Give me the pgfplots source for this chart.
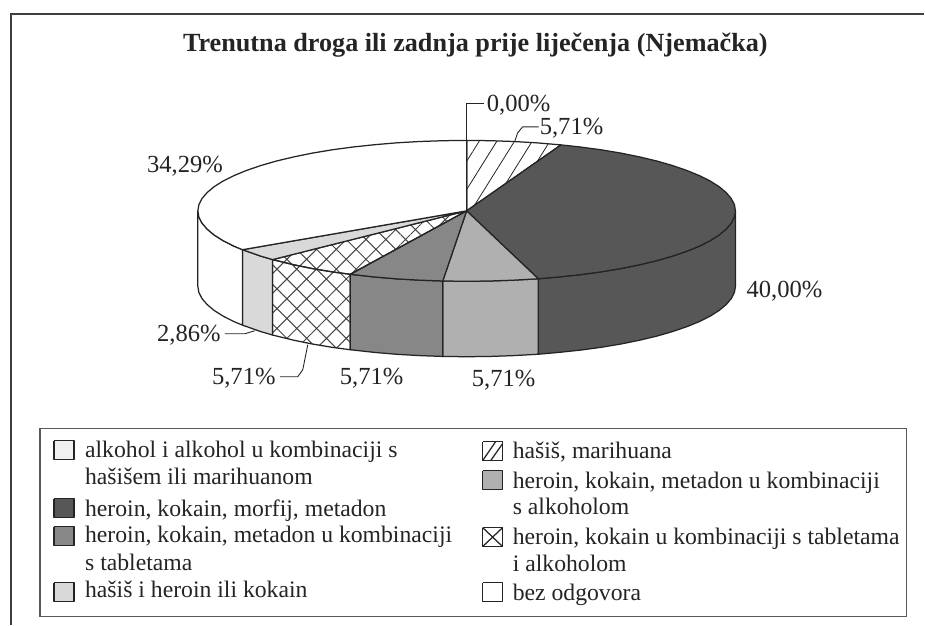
\documentclass[border=0pt]{standalone}
\usepackage{fontspec}
\setmainfont{Liberation Serif}
\usepackage{pgfplots}
\usetikzlibrary{patterns.meta}
\pgfplotsset{compat=1.18}

\definecolor{inkc}{gray}{0.14}
\definecolor{darkc}{gray}{0.34}
\definecolor{midc}{gray}{0.53}
\definecolor{lightmidc}{gray}{0.69}
\definecolor{lightc}{gray}{0.85}

\tikzset{
  edge/.style={draw=inkc, line width=1.25pt, line join=round},
  hatchA/.style={pattern={Lines[angle=58,distance=15pt,line width=0.8pt]}, pattern color=inkc},
  hatchB/.style={pattern={Hatch[angle=45,distance=14pt,line width=1pt]}, pattern color=inkc!85},
  lab/.style={anchor=base west, inner sep=0pt, text=inkc, font=\fontsize{24.6}{28}\selectfont},
  leg/.style={anchor=base west, inner sep=0pt, text=inkc, font=\fontsize{23.7}{26}\selectfont},
  lead/.style={draw=inkc, line width=0.9pt},
}

\begin{document}
\begin{tikzpicture}
\begin{axis}[
  at={(0pt,0pt)}, anchor=south west,
  width=925pt, height=625pt, scale only axis,
  xmin=0, xmax=925, ymin=0, ymax=625, y dir=reverse,
  hide axis, clip=false,
]
% keeps the page as large as the whole scan
\path (axis cs:0,0) rectangle (axis cs:925,625);
% side walls
\addplot[edge, fill=darkc] coordinates {
  (736,211) (735,217.1) (731.9,223.2) (726.8,229.2) (719.8,235.1) (710.8,240.8) (700,246.3)
  (687.4,251.4) (673.1,256.3) (657.2,260.9) (639.9,265) (621.3,268.8) (601.5,272.1)
  (580.7,274.9) (559,277.2) (538.7,279)
  (538.7,354.5) (559,352.7) (580.7,350.4) (601.5,347.6) (621.3,344.3) (639.9,340.5)
  (657.2,336.4) (673.1,331.8) (687.4,326.9) (700,321.8) (710.8,316.3) (719.8,310.6)
  (726.8,304.7) (731.9,298.7) (735,292.6) (736,286.5) (736,211)
};
\addplot[edge, fill=lightmidc] coordinates {
  (538.7,279) (513.7,280.4) (490.5,281.2) (467,281.5) (443.1,281.2)
  (443.1,356.7) (467,357) (490.5,356.7) (513.7,355.9) (538.7,354.5) (538.7,279)
};
\addplot[edge, fill=midc] coordinates {
  (443.1,281.2) (420.3,280.4) (397.4,279.1) (375,277.2) (350.5,274.5)
  (350.5,350) (375,352.7) (397.4,354.6) (420.3,355.9) (443.1,356.7) (443.1,281.2)
};
\addplot[edge, hatchB] coordinates {
  (350.5,274.5) (332.5,272.1) (312.7,268.8) (294.1,265) (272.8,259.8)
  (272.8,335.3) (294.1,340.5) (312.7,344.3) (332.5,347.6) (350.5,350) (350.5,274.5)
};
\addplot[edge, fill=lightc] coordinates {
  (272.8,259.8) (260.9,256.3) (242.7,249.9)
  (242.7,325.4) (260.9,331.8) (272.8,335.3) (272.8,259.8)
};
\addplot[edge, fill=white] coordinates {
  (242.7,249.9) (234,246.3) (223.2,240.8) (214.2,235.1) (207.2,229.2) (202.1,223.2) (199,217.1) (198,211)
  (198,286.5) (199,292.6) (202.1,298.7) (207.2,304.7) (214.2,310.6) (223.2,316.3) (234,321.8)
  (242.7,325.4) (242.7,249.9)
};
% top face, clockwise from twelve o'clock
\addplot[edge, hatchA] coordinates {
  (467,211) (467,140.5) (490.5,140.8) (513.7,141.6) (536.6,142.9) (561.4,145) (467,211)
};
\addplot[edge, fill=darkc] coordinates {
  (467,211) (561.4,145) (580.7,147.1) (601.5,149.9) (621.3,153.2) (639.9,157) (657.2,161.1)
  (673.1,165.7) (687.4,170.6) (700,175.8) (710.8,181.2) (719.8,186.9) (726.8,192.8)
  (731.9,198.8) (735,204.9) (736,211) (735,217.1) (731.9,223.2) (726.8,229.2) (719.8,235.1)
  (710.8,240.8) (700,246.3) (687.4,251.4) (673.1,256.3) (657.2,260.9) (639.9,265)
  (621.3,268.8) (601.5,272.1) (580.7,274.9) (559,277.2) (538.7,279) (467,211)
};
\addplot[edge, fill=lightmidc] coordinates {
  (467,211) (538.7,279) (513.7,280.4) (490.5,281.2) (467,281.5) (443.1,281.2) (467,211)
};
\addplot[edge, fill=midc] coordinates {
  (467,211) (443.1,281.2) (420.3,280.4) (397.4,279.1) (375,277.2) (350.5,274.5) (467,211)
};
\addplot[edge, hatchB] coordinates {
  (467,211) (350.5,274.5) (332.5,272.1) (312.7,268.8) (294.1,265) (272.8,259.8) (467,211)
};
\addplot[edge, fill=lightc] coordinates {
  (467,211) (272.8,259.8) (260.9,256.3) (242.7,249.9) (467,211)
};
\addplot[edge, fill=white] coordinates {
  (467,211) (242.7,249.9) (234,246.3) (223.2,240.8) (214.2,235.1) (207.2,229.2) (202.1,223.2)
  (199,217.1) (198,211) (199,204.9) (202.1,198.8) (207.2,192.8) (214.2,186.9) (223.2,181.2)
  (234,175.8) (246.6,170.6) (260.9,165.7) (276.8,161.1) (294.1,157) (312.7,153.2) (332.5,149.9)
  (353.3,147.1) (375,144.8) (397.4,142.9) (420.3,141.6) (443.5,140.8) (467,140.5) (467,211)
};

% leader lines
\addplot[lead] coordinates {(467,211) (467,104) (484,104)};
\addplot[lead] coordinates {(515,142) (518,133) (523,127) (539,127)};
\addplot[lead] coordinates {(225,334) (245,334) (255,331)};
\addplot[lead] coordinates {(280,377) (298,377) (303,370) (308,345)};

% frame and legend box
\draw[draw=black!75, line width=1.4pt] (axis cs:11,625) -- (axis cs:11,14) -- (axis cs:925,14);
\draw[draw=black!65, line width=1.2pt] (axis cs:40,429) rectangle (axis cs:907,617);

\node[anchor=base west, inner sep=0pt, text=inkc, font=\fontsize{26.2}{30}\selectfont\bfseries]
  at (axis cs:183,52) {Trenutna droga ili zadnja prije liječenja (Njemačka)};

\node[lab] at (axis cs:487,112) {0,00\%};
\node[lab] at (axis cs:540,135) {5,71\%};
\node[lab] at (axis cs:147,173) {34,29\%};
\node[lab] at (axis cs:747,298) {40,00\%};
\node[lab] at (axis cs:157,342) {2,86\%};
\node[lab] at (axis cs:212,385) {5,71\%};
\node[lab] at (axis cs:340,385) {5,71\%};
\node[lab] at (axis cs:472,387) {5,71\%};

% legend swatches
\addplot[edge, fill=black!6] coordinates {(54,441) (74,441) (74,460) (54,460) (54,441)};
\addplot[edge, fill=darkc] coordinates {(54,499) (74,499) (74,518) (54,518) (54,499)};
\addplot[edge, fill=midc] coordinates {(54,527) (74,527) (74,546) (54,546) (54,527)};
\addplot[edge, fill=lightc] coordinates {(54,583) (74,583) (74,602) (54,602) (54,583)};
\addplot[edge, fill=white] coordinates {(483,442) (503,442) (503,461) (483,461) (483,442)};
\addplot[edge] coordinates {(483,461) (496,442)};
\addplot[edge] coordinates {(491,461) (503,444)};
\addplot[edge, fill=lightmidc] coordinates {(483,471) (503,471) (503,490) (483,490) (483,471)};
\addplot[edge, fill=white] coordinates {(483,528) (503,528) (503,547) (483,547) (483,528)};
\addplot[edge] coordinates {(483,528) (503,547)};
\addplot[edge] coordinates {(483,547) (503,528)};
\addplot[edge, fill=white] coordinates {(483,583) (503,583) (503,602) (483,602) (483,583)};

% legend text
\node[leg] at (axis cs:85,458) {alkohol i alkohol u kombinaciji s};
\node[leg] at (axis cs:85,485) {hašišem ili marihuanom};
\node[leg] at (axis cs:85,517) {heroin, kokain, morfij, metadon};
\node[leg] at (axis cs:85,543) {heroin, kokain, metadon u kombinaciji};
\node[leg] at (axis cs:85,571) {s tabletama};
\node[leg] at (axis cs:85,598) {hašiš i heroin ili kokain};
\node[leg] at (axis cs:513,459) {hašiš, marihuana};
\node[leg] at (axis cs:513,489) {heroin, kokain, metadon u kombinaciji};
\node[leg] at (axis cs:513,515) {s alkoholom};
\node[leg] at (axis cs:513,545) {heroin, kokain u kombinaciji s tabletama};
\node[leg] at (axis cs:513,572) {i alkoholom};
\node[leg] at (axis cs:513,601) {bez odgovora};
\end{axis}
\end{tikzpicture}
\end{document}
